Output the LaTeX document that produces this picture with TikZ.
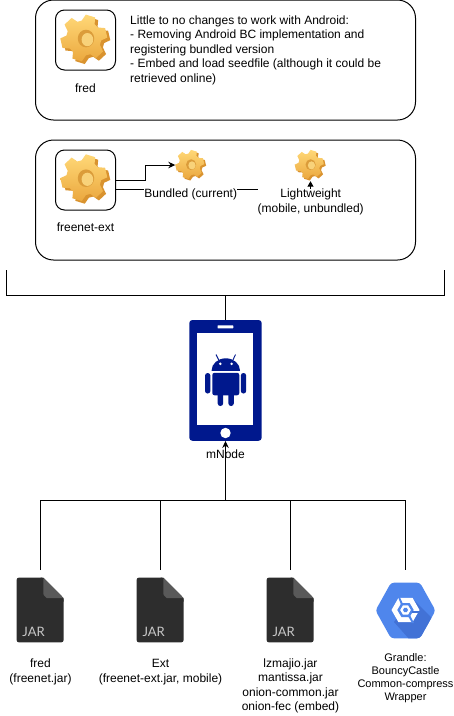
\documentclass[tikz,border=0pt]{standalone}
\usepackage{fontspec}
\setmainfont{Liberation Sans}
\newfontfamily\jarfont{Lato}
\usetikzlibrary{arrows.meta}
\definecolor{navy}{HTML}{00188D}
\definecolor{jarbody}{HTML}{2D2D2D}
\definecolor{jarfold}{HTML}{595959}
\definecolor{gcblue}{HTML}{4F86EC}
\definecolor{gcshade}{HTML}{4272D6}
\definecolor{gearback}{HTML}{D9932F}
\definecolor{geartop}{HTML}{FFD877}
\definecolor{gearbot}{HTML}{EBA83F}
\definecolor{gearhole}{HTML}{DB9C3A}
\definecolor{gearin}{HTML}{F8D27A}
\tikzset{
  panel/.style={draw=black,line width=1pt,rounded corners=18pt,minimum width=380pt,minimum height=120pt,inner sep=0pt},
  iconframe/.style={draw=black,line width=1pt,rounded corners=9pt,minimum size=60pt,inner sep=0pt},
  slot/.style={minimum size=32pt,inner sep=0pt},
  lbl/.style={font=\fontsize{12pt}{14.3pt}\selectfont,align=center,inner sep=0pt},
  smalllbl/.style={font=\fontsize{11pt}{13pt}\selectfont,align=center,inner sep=0pt},
  wire/.style={draw=black,line width=1pt},
  arrowed/.style={wire,-{Stealth[length=7pt,width=6.5pt]}},
  arrowedtri/.style={wire,-{Triangle[length=5.5pt,width=6pt]}},
}
\newcommand{\gearoutline}{%
  (-8:17.5) \foreach \a in {15,75,135,195,255,315}{ -- ({\a-14}:23.5) -- ({\a+10}:23.5) -- ({\a+22}:17.5) -- ({\a+37}:17.5)} -- cycle}
\newcommand{\gearicon}[3]{%
  \begin{scope}[shift={(#1,#2)},x=#3pt,y=#3pt,line join=round]
    \begin{scope}[shift={(1.8,-1.6)}]
      \fill[gearback] \gearoutline;
    \end{scope}
    \begin{scope}[shift={(-1.2,1)}]
      \shade[top color=geartop,bottom color=gearbot] \gearoutline;
    \end{scope}
    \fill[gearhole] (1,0.5) ellipse (8.2 and 8.8);
    \fill[gearin] (2.4,-0.6) ellipse (5.8 and 6.6);
  \end{scope}}
\newcommand{\jaricon}[1]{%
  \begin{scope}[shift={(#1,577.7)}]
    \fill[jarbody,rounded corners=2pt] (0,0) -- (27,0) -- (27,20) -- (46.8,20) -- (46.8,64.6) -- (0,64.6) -- cycle;
    \fill[jarbody] (24,0) -- (26.6,0) -- (46.8,20.3) -- (46.8,24) -- (24,24) -- cycle;
    \fill[jarfold] (26.6,0) -- (46.8,20.3) -- (30,20.3) [rounded corners=1pt] -- (26.6,17) -- cycle;
    \node[anchor=base west,inner sep=0pt,text=white!78!black] at (5.6,58.3) {\jarfont\fontsize{13pt}{15pt}\selectfont JAR};
  \end{scope}}
\begin{document}
\begin{tikzpicture}[x=1pt,y=-1pt]
\useasboundingbox (0,0) rectangle (454,716);

% panels
\node[panel] (panelA) at (225.5,60) {};
\node[panel] (panelB) at (225.5,200) {};
\node[iconframe] (fredbox) at (85.5,40) {};
\node[iconframe] (extbox) at (85.5,180) {};
\gearicon{85}{39}{1}
\gearicon{85}{178.7}{1}
\node[lbl] (fredlbl) at (85.5,88) {fred};
\node[lbl] (extlbl) at (85.5,227) {freenet-ext};
\node[lbl,font=\fontsize{12pt}{14.5pt}\selectfont,align=left,anchor=north west] (notes) at (130,15.3) {Little to no changes to work with Android:\\- Removing Android BC implementation and\\registering bundled version\\- Embed and load seedfile (although it could be\\retrieved online)};

% small gears
\node[slot] (gearA) at (191.5,165) {};
\node[slot] (gearB) at (310.5,165) {};
\gearicon{190.5}{165}{.62}
\gearicon{310}{165}{.62}
\coordinate (extlow) at (115.5,189.5);
\coordinate (bendA) at (145.3,180);
\coordinate (bendB) at (145.3,165);
\coordinate (bendC) at (310.5,189.5);
\draw[arrowed] (extbox.east) -- (bendA) -- (bendB) -- (gearA.west);
\draw[arrowedtri] (extlow) -- (bendC) -- (gearB.south);
\node[lbl,fill=white] (bundled) at (190.7,194.7) {Bundled (current)};
\node[lbl,fill=white] (light) at (310.7,201.8) {Lightweight\\(mobile, unbundled)};

% bracket
\coordinate (brL) at (6.5,270);
\coordinate (brR) at (444.5,270);
\coordinate (brM) at (225.5,295.5);
\draw[wire] (brL) |- (brM) -| (brR);

% phone
\node[fill=navy,rounded corners=3pt,minimum width=72.4pt,minimum height=120.7pt,inner sep=0pt] (phone) at (225.5,380.4) {};
\draw[wire] (brM) -- (phone.north);
\node[fill=white,minimum width=56pt,minimum height=91.7pt,inner sep=0pt] (screen) at (225.3,379.2) {};
\fill[white,rounded corners=.5pt] (217.5,325.3) rectangle (233.3,328.3);
\fill[white] (225.5,433) circle (5.2pt);
% android robot
\begin{scope}
  \clip (200,345) rectangle (250,370.6);
  \fill[navy] (225.8,370.5) ellipse (14.2pt and 12.2pt);
\end{scope}
\fill[navy,rounded corners=2.2pt] (212.3,372.8) -- (239.3,372.8) -- (239.3,395.3) -- (212.3,395.3) -- cycle;
\fill[navy,rounded corners=2.6pt] (205,373) rectangle (210.4,393.5);
\fill[navy,rounded corners=2.6pt] (240.8,373) rectangle (246.2,393.5);
\fill[navy,rounded corners=2.6pt] (217.7,390) rectangle (223.1,406);
\fill[navy,rounded corners=2.6pt] (228.4,390) rectangle (233.8,406);
\draw[navy,line width=.9pt] (219,360.5) -- (216,354.5);
\draw[navy,line width=.9pt] (232.7,360.5) -- (235.5,354.5);
\fill[white] (220.3,363.8) circle (1.4pt);
\fill[white] (231.6,363.8) circle (1.4pt);

% tree
\coordinate (hub) at (225.5,500.5);
\coordinate (leafA) at (40.5,570);
\coordinate (leafB) at (160.5,570);
\coordinate (leafC) at (290.5,570);
\coordinate (leafD) at (405.5,570);
\draw[wire] (leafA) |- (hub) -| (leafD);
\draw[wire] (leafB) -- (leafB |- hub);
\draw[wire] (leafC) -- (leafC |- hub);
\draw[arrowed] (hub) -- (phone.south);
\node[lbl] (mnode) at (225.5,454) {mNode};

% jars
\jaricon{16.7}
\jaricon{136.7}
\jaricon{266.7}
\node[lbl] (jarAlbl) at (40.5,672) {fred\\(freenet.jar)};
\node[lbl] (jarBlbl) at (160.5,672) {Ext\\(freenet-ext.jar, mobile)};
\node[lbl] (jarClbl) at (290.5,686) {lzmajio.jar\\mantissa.jar\\onion-common.jar\\onion-fec (embed)};

% cloud icon
\begin{scope}
  \path[clip,rounded corners=3pt] (375.5,610.5) -- (391,582.7) -- (420,582.7) -- (435.5,610.5) -- (420,638.3) -- (391,638.3) -- cycle;
  \fill[gcblue] (370,580) rectangle (440,640);
  \fill[gcshade] (412,598) -- (440,626) -- (440,640) -- (410,640) -- (394,622) -- cycle;
\end{scope}
\fill[white] (391.5,610) -- (398.5,597.8) -- (412.5,597.8) -- (419.5,610) -- (412.5,622.2) -- (398.5,622.2) -- cycle;
\fill[gcblue] (397.3,610) -- (401.4,603) -- (409.6,603) -- (413.7,610) -- (409.6,617) -- (401.4,617) -- cycle;
\fill[white] (400.2,610) -- (402.9,605.4) -- (408.1,605.4) -- (410.8,610) -- (408.1,614.6) -- (402.9,614.6) -- cycle;
\fill[gcblue] (403,610) -- (404.3,607.8) -- (406.7,607.8) -- (408,610) -- (406.7,612.2) -- (404.3,612.2) -- cycle;
\fill[gcblue] (397.8,596.5) -- (399.6,596.5) -- (403,604) -- (401.2,605) -- cycle;
\fill[gcshade] (412,611) -- (420.5,611) -- (420.5,612.5) -- (412,612.5) -- cycle;
\fill[gcblue] (408,616) -- (410,615) -- (414,623) -- (412,623) -- cycle;
\node[smalllbl] (gclbl) at (405.5,678) {Grandle:\\BouncyCastle\\Common-compress\\Wrapper};
\end{tikzpicture}
\end{document}
